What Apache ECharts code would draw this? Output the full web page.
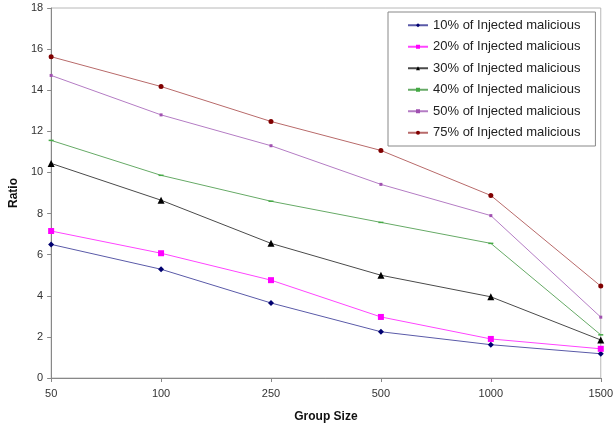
<!DOCTYPE html>
<html>
<head>
<meta charset="utf-8">
<script src="https://cdn.jsdelivr.net/npm/echarts@6/dist/echarts.min.js"></script>
<style>
  html, body { margin: 0; padding: 0; background: #fff; }
  #main { width: 616px; height: 428px; }
</style>
</head>
<body>
<div id="main"></div>
<script>
var groupSizes = ['50', '100', '250', '500', '1000', '1500'];
var inj10 = [6.5, 5.29, 3.65, 2.25, 1.62, 1.18];
var inj20 = [7.15, 6.07, 4.76, 2.97, 1.9, 1.42];
var inj30 = [10.44, 8.65, 6.55, 5.0, 3.95, 1.85];
var inj40 = [11.56, 9.86, 8.6, 7.57, 6.55, 2.1];
var inj50 = [14.72, 12.8, 11.3, 9.42, 7.9, 2.96];
var inj75 = [15.63, 14.18, 12.48, 11.07, 8.88, 4.47];
var yTicks = { min: 0, max: 18, interval: 2 };

(function () {
    var myChart = echarts.init(document.getElementById('main'));
    // name, data, line colour, marker colour, marker
    var defs = [
        ['10% of Injected malicious', inj10, '#5a5aa8', '#000070', 'diamond', 6],
        ['20% of Injected malicious', inj20, '#ff44ff', '#ff00ff', 'rect', 6],
        ['30% of Injected malicious', inj30, '#4a4a4a', '#000000', 'triangle', 7],
        ['40% of Injected malicious', inj40, '#66aa66', '#44aa44', 'rect', [5, 1.5]],
        ['50% of Injected malicious', inj50, '#b47cc4', '#a050b0', 'rect', 3],
        ['75% of Injected malicious', inj75, '#b86a6a', '#800000', 'circle', 5]
    ];
    var series = defs.map(function (d) {
        return {
            name: d[0],
            type: 'line',
            data: d[1],
            symbol: d[4],
            symbolSize: d[5],
            showSymbol: true,
            lineStyle: { color: d[2], width: 1 },
            itemStyle: { color: d[3] },
            emphasis: { disabled: true }
        };
    });
    var option = {
        animation: false,
        textStyle: { fontFamily: 'Liberation Sans, Arial, sans-serif' },
        grid: {
            left: 48, right: 13, top: 8, bottom: 49,
            show: true, borderColor: '#b8b8b8', borderWidth: 1
        },
        legend: {
            orient: 'vertical',
            left: 388, top: 12,
            padding: [6, 15, 6, 19],
            borderColor: '#888',
            borderWidth: 1,
            backgroundColor: '#fff',
            itemWidth: 20,
            itemHeight: 5,
            itemGap: 7,
            textStyle: { fontSize: 13, color: '#222', lineHeight: 14.5 },
            data: defs.map(function (d) { return d[0]; })
        },
        xAxis: {
            type: 'category',
            data: groupSizes,
            boundaryGap: false,
            name: 'Group Size',
            nameLocation: 'middle',
            nameGap: 33,
            nameTextStyle: { fontWeight: 'bold', fontSize: 12, color: '#111' },
            axisLine: { lineStyle: { color: '#888' } },
            axisTick: { show: true, alignWithLabel: true, length: 4, lineStyle: { color: '#888' } },
            axisLabel: { fontSize: 11, color: '#333', margin: 10 },
            splitLine: { show: false }
        },
        yAxis: {
            type: 'value',
            min: yTicks.min, max: yTicks.max, interval: yTicks.interval,
            name: 'Ratio',
            nameLocation: 'middle',
            nameRotate: 90,
            nameGap: 28,
            nameTextStyle: { fontWeight: 'bold', fontSize: 12, color: '#111' },
            axisLine: { show: true, lineStyle: { color: '#888' } },
            axisTick: { show: true, length: 4, lineStyle: { color: '#888' } },
            axisLabel: { fontSize: 11, color: '#333', margin: 8 },
            splitLine: { show: false }
        },
        series: series
    };
    myChart.setOption(option);
})()
</script>
</body>
</html>
